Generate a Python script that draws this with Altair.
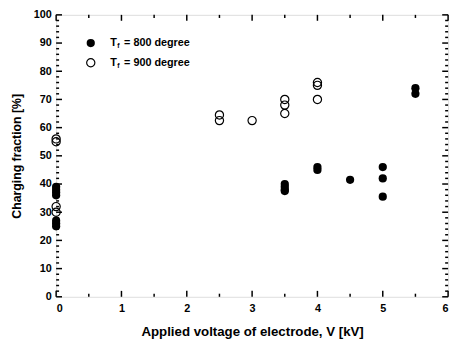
import altair as alt
import pandas as pd

# data
v800 = [0, 0, 0, 0, 0, 0, 0, 3.5, 3.5, 3.5, 3.5, 4, 4, 4.5, 5, 5, 5, 5.5, 5.5]
f800 = [39, 38, 37, 36, 27, 26, 25, 40, 39, 38, 37.5, 46, 45, 41.5, 46, 42, 35.5, 74, 72]
v900 = [0, 0, 0, 0, 2.5, 2.5, 3, 3.5, 3.5, 3.5, 4, 4, 4]
f900 = [56, 55, 32, 30, 64.5, 62.5, 62.5, 70, 68, 65, 76, 75, 70]

x_major = [0, 1, 2, 3, 4, 5, 6]
x_minor = [0.5, 1.5, 2.5, 3.5, 4.5, 5.5]
y_major = [0, 10, 20, 30, 40, 50, 60, 70, 80, 90, 100]
y_minor = [v for v in range(0, 101, 2) if v % 10 != 0]

legend_labels = ["= 800 degree", "= 900 degree"]
legend_y = [90, 83]

FONT = "Liberation Sans"

xs = alt.Scale(domain=[0, 6], nice=False, zero=False)
ys = alt.Scale(domain=[0, 100], nice=False, zero=False)

# inward ticks on all four sides
vrows = []
for t in x_major:
    vrows.append(dict(x=t, y=0, y2=2.1))
    vrows.append(dict(x=t, y=100, y2=97.9))
for t in x_minor:
    vrows.append(dict(x=t, y=0, y2=1.1))
    vrows.append(dict(x=t, y=100, y2=98.9))
hrows = []
for t in y_major:
    hrows.append(dict(y=t, x=0, x2=0.09))
    hrows.append(dict(y=t, x=6, x2=5.91))
for t in y_minor:
    hrows.append(dict(y=t, x=0, x2=0.045))
    hrows.append(dict(y=t, x=6, x2=5.955))
vdf = pd.DataFrame(vrows)
hdf = pd.DataFrame(hrows)

xaxis = alt.Axis(
    title="Applied voltage of electrode, V [kV]", values=x_major, format="d",
    ticks=False, domain=False, grid=False, labelPadding=6, labelOverlap=False,
    labelFont=FONT, labelFontWeight="bold", labelFontSize=11,
    titleFont=FONT, titleFontWeight="bold", titleFontSize=13.5, titlePadding=11,
    titleColor="black", labelColor="black")
yaxis = alt.Axis(
    title="Charging fraction [%]", values=y_major, format="d",
    ticks=False, domain=False, grid=False, labelPadding=5, labelOverlap=False,
    labelFont=FONT, labelFontWeight="bold", labelFontSize=11,
    titleFont=FONT, titleFontWeight="bold", titleFontSize=12.5, titlePadding=10,
    titleColor="black", labelColor="black")


def X(f):
    return alt.X(f, type="quantitative", scale=xs, axis=xaxis)


def Y(f):
    return alt.Y(f, type="quantitative", scale=ys, axis=yaxis)


vticks = alt.Chart(vdf).mark_rule(color="black", strokeWidth=1.5).encode(
    x=X("x"), y=Y("y"), y2="y2")
hticks = alt.Chart(hdf).mark_rule(color="black", strokeWidth=1.5).encode(
    x=X("x"), x2="x2", y=Y("y"))

df800 = pd.DataFrame({"v": v800, "f": f800})
df900 = pd.DataFrame({"v": v900, "f": f900})

pts800 = alt.Chart(df800).mark_point(filled=True, shape="circle", size=70, color="black",
                                     opacity=1).encode(x=X("v"), y=Y("f"))
pts900 = alt.Chart(df900).mark_point(filled=False, shape="circle", size=70, color="black",
                                     strokeWidth=1.2, opacity=1).encode(x=X("v"), y=Y("f"))

# legend
leg = pd.DataFrame({"lx": [0.53, 0.53], "ly": legend_y, "lab": legend_labels,
                    "filled": ["yes", "no"], "tx": [0.83, 0.83]})
leg_fill = alt.Chart(leg[leg.filled == "yes"]).mark_point(
    filled=True, shape="circle", size=70, color="black", opacity=1).encode(x=X("lx"), y=Y("ly"))
leg_open = alt.Chart(leg[leg.filled == "no"]).mark_point(
    filled=False, shape="circle", size=70, color="black", strokeWidth=1.2, opacity=1).encode(
    x=X("lx"), y=Y("ly"))
leg_T = alt.Chart(leg).mark_text(text="T", align="left", baseline="middle", font=FONT,
                                 fontWeight="bold", fontSize=11, color="black").encode(
    x=X("tx"), y=Y("ly"))
leg_f = alt.Chart(leg).mark_text(text="f", align="left", baseline="middle", font=FONT,
                                 fontWeight="bold", fontSize=7, dx=7, dy=3, color="black").encode(
    x=X("tx"), y=Y("ly"))
leg_lab = alt.Chart(leg).mark_text(align="left", baseline="middle", font=FONT,
                                   fontWeight="bold", fontSize=11, dx=14, color="black").encode(
    x=X("tx"), y=Y("ly"), text="lab:N")

chart = alt.layer(vticks, hticks, pts800, pts900, leg_fill, leg_open, leg_T, leg_f, leg_lab).properties(
    width=399, height=287,
    autosize=alt.AutoSizeParams(type="none"),
    padding={"left": 49, "top": 4, "right": 5, "bottom": 41},
).configure_view(stroke="black", strokeWidth=2).configure(background="white")

chart.save("out.html", embed_options={"renderer": "svg", "actions": False})
